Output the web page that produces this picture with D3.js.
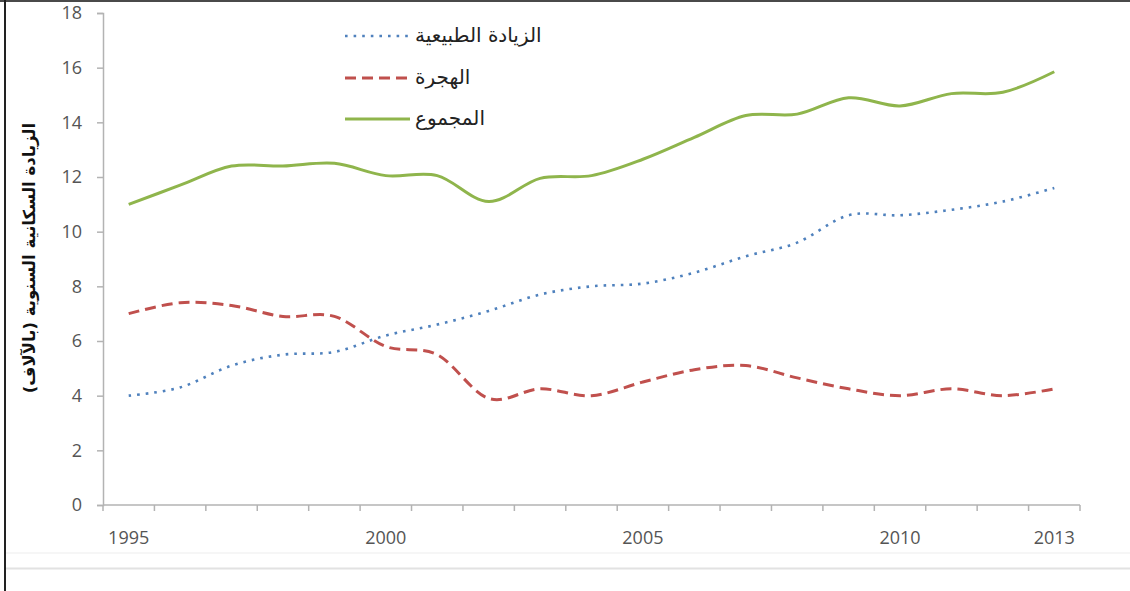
<!DOCTYPE html>
<html>
<head>
<meta charset="utf-8">
<script src="https://cdn.jsdelivr.net/npm/d3@7"></script>
<style>
  html, body { margin: 0; padding: 0; background: #fff; }
  svg { display: block; }
</style>
</head>
<body>
<svg id="chart" width="1130" height="591"></svg>
<script>
// Years on the category axis
const years = [1995, 1996, 1997, 1998, 1999, 2000, 2001, 2002, 2003, 2004,
               2005, 2006, 2007, 2008, 2009, 2010, 2011, 2012, 2013];
// Years that carry a label under the axis
const labelledYears = [1995, 2000, 2005, 2010, 2013];
// Value-axis ticks (thousands)
const yTicks = [0, 2, 4, 6, 8, 10, 12, 14, 16, 18];

// Annual natural increase (thousands)
const naturalIncrease = [4.0, 4.3, 5.1, 5.5, 5.6, 6.2, 6.6, 7.1, 7.7, 8.0,
                         8.1, 8.5, 9.1, 9.6, 10.6, 10.6, 10.8, 11.1, 11.6];
// Annual net migration (thousands)
const migration = [7.0, 7.4, 7.3, 6.9, 6.9, 5.8, 5.5, 3.9, 4.25, 4.0,
                   4.5, 4.95, 5.1, 4.65, 4.25, 4.0, 4.25, 4.0, 4.25];
// Annual total growth (thousands)
const total = [11.0, 11.7, 12.4, 12.4, 12.5, 12.05, 12.05, 11.1, 11.95, 12.05,
               12.65, 13.45, 14.25, 14.3, 14.9, 14.6, 15.05, 15.1, 15.85];

const seriesNames = ["الزيادة الطبيعية", "الهجرة", "المجموع"];
const axisTitle = "الزيادة السكانية السنوية (بالآلاف)";

const svg = d3.select("#chart");
const W = 1130, H = 591;

// Page frame
svg.append("rect").attr("x", 0).attr("y", 0).attr("width", W).attr("height", H).attr("fill", "#fff");
svg.append("line").attr("x1", 0).attr("x2", W).attr("y1", 1).attr("y2", 1)
  .attr("stroke", "#4a4a4a").attr("stroke-width", 2);
svg.append("line").attr("x1", 5).attr("x2", 5).attr("y1", 0).attr("y2", H)
  .attr("stroke", "#222").attr("stroke-width", 2);
svg.append("line").attr("x1", 6).attr("x2", W).attr("y1", 553).attr("y2", 553)
  .attr("stroke", "#f3f3f3").attr("stroke-width", 1.5);
svg.append("line").attr("x1", 6).attr("x2", W).attr("y1", 568.5).attr("y2", 568.5)
  .attr("stroke", "#e2e2e2").attr("stroke-width", 2);

// Plot area
const plotLeft = 103, plotRight = 1080, plotTop = 13, plotBottom = 505;

const xb = d3.scaleBand().domain(years).range([plotLeft, plotRight]).padding(0);
const xc = d => xb(d) + xb.bandwidth() / 2;
const y = d3.scaleLinear().domain([0, 18]).range([plotBottom, plotTop]);

const axisColor = "#b3b3b3";
const tickTextColor = "#555";
const numFont = "'Open Sans', 'Liberation Sans', sans-serif";

// Value axis
const yAxis = svg.append("g").attr("transform", `translate(${plotLeft},0)`)
  .call(d3.axisLeft(y).tickValues(yTicks).tickSize(6).tickPadding(15).tickFormat(d3.format("d")));
yAxis.select(".domain").attr("stroke", axisColor).attr("stroke-width", 1.5);
yAxis.selectAll(".tick line").attr("stroke", axisColor).attr("stroke-width", 1.5);
yAxis.selectAll(".tick text").attr("fill", tickTextColor)
  .style("font-family", numFont).style("font-size", "18px");

// Category axis: line, ticks between categories, labels on selected years
const xAxis = svg.append("g");
xAxis.append("line").attr("x1", plotLeft).attr("x2", plotRight)
  .attr("y1", plotBottom).attr("y2", plotBottom)
  .attr("stroke", axisColor).attr("stroke-width", 1.5);
const boundaries = years.map(d => xb(d)).concat([xb.range()[1]]);
xAxis.selectAll("line.tk").data(boundaries).join("line").attr("class", "tk")
  .attr("x1", d => d).attr("x2", d => d).attr("y1", plotBottom).attr("y2", plotBottom + 6)
  .attr("stroke", axisColor).attr("stroke-width", 1.5);
xAxis.selectAll("text").data(labelledYears).join("text")
  .attr("x", d => xc(d)).attr("y", 544)
  .attr("text-anchor", "middle").attr("fill", tickTextColor)
  .style("font-family", numFont).style("font-size", "18px")
  .text(d => d);

// Series lines (smoothed)
const curve = d3.curveCatmullRom.alpha(0);
const lineGen = vals => d3.line().curve(curve)
  .x((d, i) => xc(years[i])).y(d => y(d))(vals);

const styles = [
  { color: "#4f81bd", width: 2.6, dash: "2.6,6" },
  { color: "#c0504d", width: 3, dash: "11,6" },
  { color: "#8fb54c", width: 3, dash: null }
];
const seriesData = [naturalIncrease, migration, total];

seriesData.forEach((vals, k) => {
  svg.append("path")
    .attr("d", lineGen(vals))
    .attr("fill", "none")
    .attr("stroke", styles[k].color)
    .attr("stroke-width", styles[k].width)
    .attr("stroke-dasharray", styles[k].dash)
    .attr("stroke-linejoin", "round");
});

// Legend
const legendY = [36, 78, 119];
const legend = svg.append("g");
seriesNames.forEach((name, k) => {
  legend.append("line")
    .attr("x1", 345).attr("x2", 410).attr("y1", legendY[k]).attr("y2", legendY[k])
    .attr("stroke", styles[k].color).attr("stroke-width", styles[k].width)
    .attr("stroke-dasharray", styles[k].dash);
  legend.append("text")
    .attr("x", 415).attr("y", legendY[k]).attr("dy", "0.3em")
    .attr("fill", "#222")
    .style("font-family", "'DejaVu Sans', sans-serif").style("font-size", "20px")
    .text(name);
});

// Value-axis title
svg.append("text")
  .attr("transform", "translate(35,258) rotate(-90)")
  .attr("text-anchor", "middle")
  .attr("fill", "#111")
  .style("font-family", "'DejaVu Sans', sans-serif")
  .style("font-size", "16.5px").style("font-weight", "bold")
  .text(axisTitle);
</script>
</body>
</html>
